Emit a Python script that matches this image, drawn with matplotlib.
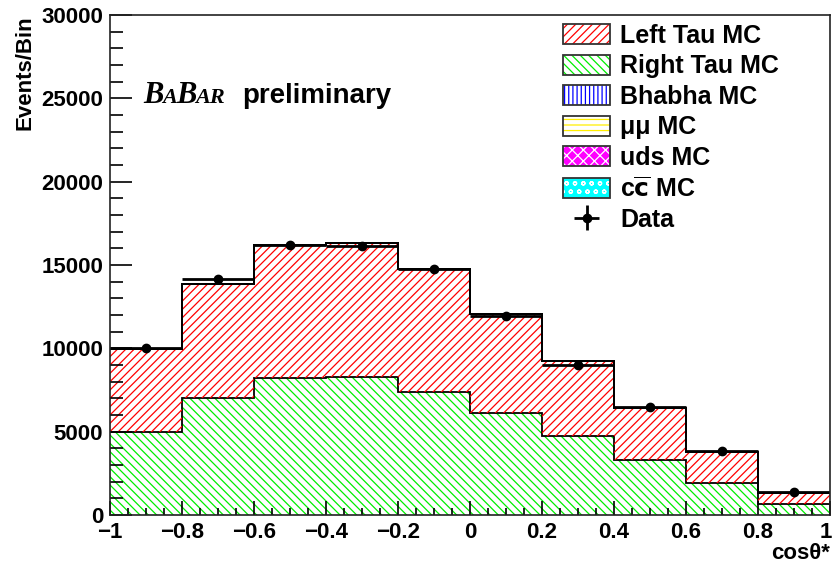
import numpy as np
import matplotlib
matplotlib.use('Agg')
import matplotlib.pyplot as plt
from matplotlib.patches import Patch
from matplotlib.ticker import MultipleLocator
from matplotlib.legend_handler import HandlerTuple
from matplotlib.transforms import ScaledTranslation

plt.rcParams['font.family'] = ['Liberation Sans', 'DejaVu Sans']
plt.rcParams['font.weight'] = 'bold'
plt.rcParams['hatch.linewidth'] = 0.9
plt.rcParams['axes.unicode_minus'] = True

# bin edges in cos(theta*)
edges = [-1.0, -0.8, -0.6, -0.4, -0.2, 0.0, 0.2, 0.4, 0.6, 0.8, 1.0]
right_tau = [5000, 7000, 8200, 8280, 7400, 6150, 4750, 3280, 1950, 660]
left_tau = [4980, 6850, 8020, 8060, 7360, 5890, 4490, 3160, 1830, 660]
bhabha = [0, 0, 0, 0, 0, 0, 0, 0, 0, 0]
mumu = [0, 0, 0, 0, 0, 0, 0, 0, 0, 0]
uds = [0, 0, 0, 0, 0, 0, 0, 0, 0, 0]
ccbar = [0, 0, 0, 0, 0, 0, 0, 0, 0, 0]
data = [10000, 14150, 16220, 16150, 14780, 11950, 9000, 6480, 3830, 1380]

xticks = [-1.0, -0.8, -0.6, -0.4, -0.2, 0.0, 0.2, 0.4, 0.6, 0.8, 1.0]
xticklabels = ['\u22121', '\u22120.8', '\u22120.6', '\u22120.4', '\u22120.2', '0',
               '0.2', '0.4', '0.6', '0.8', '1']
yticks = [0, 5000, 10000, 15000, 20000, 25000, 30000]

edges = np.array(edges)
centers = 0.5 * (edges[1:] + edges[:-1])
halfw = 0.5 * np.diff(edges)

RED_H = '////'
GREEN_H = '\\\\\\\\'

fig = plt.figure(figsize=(8.34, 5.66), dpi=100)
ax = fig.add_axes([0.1319, 0.0901, 0.8633, 0.8834])

# stack order: bottom first
layers = [
    (right_tau, dict(facecolor='none', edgecolor='#00ee00', hatch=GREEN_H)),
    (left_tau, dict(facecolor='none', edgecolor='#ff0000', hatch=RED_H)),
    (bhabha, dict(facecolor='none', edgecolor='#0000ff', hatch='||||')),
    (mumu, dict(facecolor='none', edgecolor='#ffff00', hatch='----')),
    (uds, dict(facecolor='#ff00ff', edgecolor='white', hatch='xx')),
    (ccbar, dict(facecolor='#00ffff', edgecolor='white', hatch='oo')),
]
base = np.zeros(len(centers))
for vals, style in layers:
    top = base + np.array(vals, dtype=float)
    if np.any(top > base):
        ax.stairs(top, edges, baseline=base.copy(), fill=True, linewidth=0, **style)
    ax.stairs(top, edges, baseline=None, color='black', linewidth=1.3)
    base = top

err = ax.errorbar(centers, data, xerr=halfw, yerr=np.sqrt(data), fmt='o',
                  color='black', markersize=6, elinewidth=2, capsize=0)

ax.set_xlim(-1, 1)
ax.set_ylim(0, 30000)
ax.set_xticks(xticks)
ax.set_xticklabels(xticklabels)
ax.set_yticks(yticks)
ax.set_yticklabels([str(v) for v in yticks])
ax.xaxis.set_minor_locator(MultipleLocator(0.05))
ax.yaxis.set_minor_locator(MultipleLocator(1000))
ax.tick_params(axis='both', which='both', direction='in', labelsize=16, width=1.2)
ax.tick_params(axis='y', which='major', length=16, pad=5)
ax.tick_params(axis='y', which='minor', length=9)
ax.tick_params(axis='x', which='major', length=10, pad=5)
ax.tick_params(axis='x', which='minor', length=5)
for lab in ax.get_xticklabels() + ax.get_yticklabels():
    lab.set_fontweight('bold')
# keep the last x label inside the canvas
last = ax.get_xticklabels()[-1]
last.set_transform(last.get_transform() + ScaledTranslation(-4 / 100, 0, fig.dpi_scale_trans))
for sp in ax.spines.values():
    sp.set_linewidth(1.2)
    sp.set_color('#222222')

ax.set_xlabel('cos\u03b8*', loc='right', fontsize=16, fontweight='bold', labelpad=0)
ax.set_ylabel('Events/Bin', loc='top', fontsize=16, fontweight='bold', labelpad=4)

# legend
def hatch_box(fc, hc, hatch):
    return (Patch(facecolor=fc, edgecolor=hc, hatch=hatch, linewidth=0),
            Patch(facecolor='none', edgecolor='#333333', linewidth=1.3))

handles = [
    hatch_box('white', '#ff0000', RED_H),
    hatch_box('white', '#00ee00', GREEN_H),
    hatch_box('white', '#0000ff', '||||'),
    hatch_box('white', '#ffee00', '---'),
    hatch_box('#ff00ff', 'white', 'xxx'),
    hatch_box('#00ffff', 'white', 'oo'),
    err,
]
labels = ['Left Tau MC', 'Right Tau MC', 'Bhabha MC', '\u03bc\u03bc MC', 'uds MC',
          'c$\\overline{\\mathbf{c}}$ MC', 'Data']
ax.legend(handles, labels, loc='upper left', bbox_to_anchor=(0.629, 0.982),
          frameon=False, fontsize=18, borderpad=0, borderaxespad=0,
          handlelength=1.9, handleheight=0.85, handletextpad=0.4, labelspacing=0.26,
          handler_map={tuple: HandlerTuple(ndivide=1, pad=0)})

# BaBar logo
renderer = fig.canvas.get_renderer()
W, H = 834.0, 566.0
x = 143.0
ybase = H - 103.0
for s, size in [('B', 22), ('A', 16), ('B', 22), ('AR', 16)]:
    t = fig.text(x / W, ybase / H, s, fontsize=size, family='Liberation Serif',
                 style='italic', fontweight='bold', va='baseline', ha='left')
    x = t.get_window_extent(renderer).x1 - 1
fig.text(242 / W, ybase / H, 'preliminary', fontsize=20, fontweight='bold',
         va='baseline', ha='left')

fig.savefig('out.png', dpi=100)
